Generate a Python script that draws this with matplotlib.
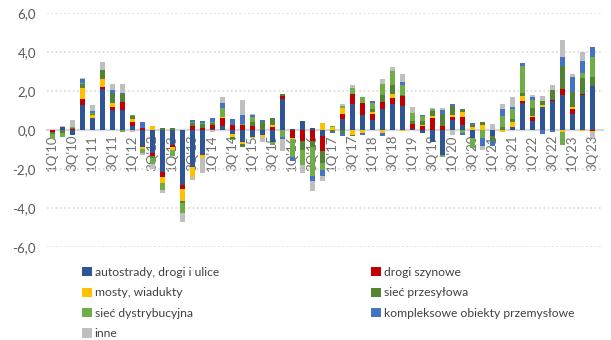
import numpy as np
import matplotlib
matplotlib.use("Agg")
import matplotlib.pyplot as plt
from matplotlib.patches import Patch

plt.rcParams['font.family'] = ['Lato', 'DejaVu Sans']

# Quarterly contributions (pp) by construction segment, 1Q'10 - 3Q'23
autostrady = [0, 0.13, -0.27, 1.27, 0.6, 2.08, 1.04, 1.05, 0.2, -0.85,
              -1.2, -2.14, -0.75, -2.82, -1.88, -1.28, 0.05, 0.2, -0.2, -0.6,
              -0.35, -0.26, -0.6, 1.57, 0.07, 0.45, 0.08, -0.3, 0, 0.55,
              1.35, 0.75, 0.5, 1.06, 1.35, 1.25, 0.03, -0.14, -0.6, -1.3,
              0.52, 0.25, -0.4, 0, -0.3, 0, 0.15, 1.37, 0.45, 1.18,
              1.48, 1.8, 0.84, 1.8, 2.25]
drogi_szynowe = [-0.12, 0, 0.07, 0.3, 0, 0.12, 0.13, 0.37, 0.22, 0.12,
                 -0.14, -0.29, -0.1, -0.2, 0.22, 0.1, 0.2, 0.4, 0.25, 0.25,
                 0.18, 0, 0.14, 0.17, -0.4, -0.55, -0.55, -0.8, 0, 0.28,
                 0.49, 0.61, 0.34, 0.37, 0.3, 0.47, 0.26, 0.22, 0.62, 0.2,
                 0.16, 0.4, 0, 0, 0, 0, 0, 0.14, 0.2, 0,
                 0.07, 0.3, 0.25, 0.05, -0.04]
mosty = [0, 0, 0, 0.6, 0.17, 0.43, 0.24, 0, 0.12, -0.12,
         0.22, -0.3, -0.15, -0.6, -0.55, -0.14, 0, 0.05, -0.15, -0.12,
         -0.05, -0.08, 0.14, 0, -0.08, 0, 0, 0.37, 0.15, 0.32,
         -0.26, -0.17, 0.08, -0.14, 0.22, -0.05, 0, 0.05, 0.1, 0,
         0.08, 0.28, 0.14, 0.26, 0, -0.08, 0.24, 0.25, 0.08, 0.08,
         0, -0.08, 0.08, -0.03, -0.08]
siec_przesylowa = [-0.08, -0.15, 0.05, 0.2, 0.05, 0.45, 0.5, 0.45, 0.17, 0,
                   -0.1, 0.12, 0.1, -0.12, 0.14, 0.2, 0.1, 0, -0.1, -0.14,
                   0.25, 0.43, 0.35, 0.1, 0, -0.45, -0.3, -0.6, -0.12, -0.22,
                   -0.05, 0, 0.14, 0.34, 0.43, 0.08, 0.19, 0.17, 0.24, 0.63,
                   0.45, 0.15, 0.14, 0.13, -0.28, 0.13, 0.15, 0.13, 0.42, 0.22,
                   0.51, 1.16, 0.77, 0.82, 0.46]
siec_dystrybucyjna = [-0.25, -0.2, 0.05, 0.02, 0.05, 0, 0, -0.12, 0.05, -0.2,
                      -0.3, -0.34, -0.35, -0.5, 0.07, 0.05, 0.08, 0.5, -0.05, 0.07,
                      0.25, 0, -0.15, -0.35, -0.9, -0.77, -1.5, -0.37, 0.05, 0.08,
                      0.32, 0.34, 0.31, 0.58, 0.73, 0.5, 0.4, 0.3, 0.11, -0.08,
                      0.03, -0.15, -0.5, -0.4, 0, 0.58, 0.55, 1.4, 0.38, 0,
                      0, -0.7, 0, 0.24, 1.02]
kompleksowe = [0, 0, 0, 0.2, 0.12, 0, 0.13, 0.05, 0, 0.27,
               0, 0, 0, 0, 0.08, 0.12, 0.17, 0.25, 0.3, 0.45,
               0.1, 0.08, 0, -0.1, -0.2, 0, -0.25, -0.3, -0.05, -0.09,
               0, -0.09, 0.14, -0.15, 0, 0.18, 0, 0.03, 0, 0.2,
               0.1, -0.1, 0.1, -0.43, -0.25, 0.39, 0.1, 0.17, 0.15, -0.23,
               -0.08, 0.48, 0.8, 0.63, 0.53]
inne = [0, 0.1, 0.35, 0.07, 0.3, 0.43, 0.31, 0.46, -0.1, -0.13,
        -0.25, -0.14, 0, -0.48, -0.14, -0.76, -0.12, 0.3, 0, 0.75,
        0.05, -0.25, 0, -0.65, 0, -0.43, -0.55, -0.25, 0, 0.1,
        0.17, 0, 0, 0.28, 0.22, 0.4, 0.3, 0, 0.07, 0.08,
        -0.25, 0, 0, -0.21, 0.32, 0.21, 0.48, 0, 0.12, 0.25,
        0.27, 0.85, 0.14, 0.48, -0.3]

series_names = ["autostrady, drogi i ulice", "drogi szynowe", "mosty, wiadukty",
                "sieć przesyłowa", "sieć dystrybucyjna",
                "kompleksowe obiekty przemysłowe", "inne"]
series_colors = ["#2F5597", "#C00000", "#FFC000", "#548235", "#70AD47",
                 "#4472C4", "#BFBFBF"]

tick_labels = ["1Q'10", "3Q'10", "1Q'11", "3Q'11", "1Q'12", "3Q'12", "1Q'13",
               "3Q'13", "1Q'14", "3Q'14", "1Q'15", "3Q'15", "1Q'16", "3Q'16",
               "1Q'17", "3Q'17", "1Q'18", "3Q'18", "1Q'19", "3Q'19", "1Q'20",
               "3Q'20", "1Q'21", "3Q'21", "1Q'22", "3Q'22", "1Q'23", "3Q'23"]

data = np.array([autostrady, drogi_szynowe, mosty, siec_przesylowa,
                 siec_dystrybucyjna, kompleksowe, inne], dtype=float)
n = data.shape[1]
x = np.arange(n)

fig = plt.figure(figsize=(6.11, 3.40), dpi=100)
ax = fig.add_axes([47 / 611, 1 - 247 / 340, 556 / 611, 234 / 340])

text_color = "#595959"
grid_color = "#D9D9D9"

# Positive parts stack upward, negative parts stack downward
pos_base = np.zeros(n)
neg_base = np.zeros(n)
for vals, color in zip(data, series_colors):
    pos = np.where(vals > 0, vals, 0)
    neg = np.where(vals < 0, vals, 0)
    ax.bar(x, pos, bottom=pos_base, width=0.5, color=color, linewidth=0, zorder=3)
    ax.bar(x, neg, bottom=neg_base, width=0.5, color=color, linewidth=0, zorder=3)
    pos_base += pos
    neg_base += neg

ax.set_xlim(-0.5, n + 0.1)
ax.set_ylim(-6, 6)
yticks = np.arange(-6, 7, 2)
ax.set_yticks(yticks)
ax.set_yticklabels([f"{v:.1f}".replace(".", ",") for v in yticks],
                   color=text_color, fontsize=9.5)
ax.yaxis.grid(True, linestyle=(0, (1.2, 1.6)), color=grid_color, linewidth=1.1, zorder=0)

for side in ["top", "right", "left"]:
    ax.spines[side].set_visible(False)
ax.spines["bottom"].set_position(("data", 0))
ax.spines["bottom"].set_color(grid_color)
ax.spines["bottom"].set_linewidth(1.6)
ax.spines["bottom"].set_zorder(2)

ax.set_xticks(x[::2])
ax.set_xticklabels(tick_labels, rotation=90, color="#6E6E6E", fontsize=9.5)
ax.tick_params(axis="x", length=0, pad=3)
ax.tick_params(axis="y", length=0, pad=8)

handles = [Patch(facecolor=c, edgecolor="none", label=l)
           for l, c in zip(series_names, series_colors)]
leg_kw = dict(frameon=False, fontsize=8.7, handlelength=0.8, handleheight=0.8,
              handletextpad=0.25, labelspacing=0.78, borderpad=0, loc="upper left",
              labelcolor="#404040")
leg1 = fig.legend(handles=[handles[0], handles[2], handles[4], handles[6]],
                  bbox_to_anchor=(76 / 611, 1 - 261 / 340), **leg_kw)
leg2 = fig.legend(handles=[handles[1], handles[3], handles[5]],
                  bbox_to_anchor=(365 / 611, 1 - 261 / 340), **leg_kw)

fig.savefig("out.png", dpi=100)
